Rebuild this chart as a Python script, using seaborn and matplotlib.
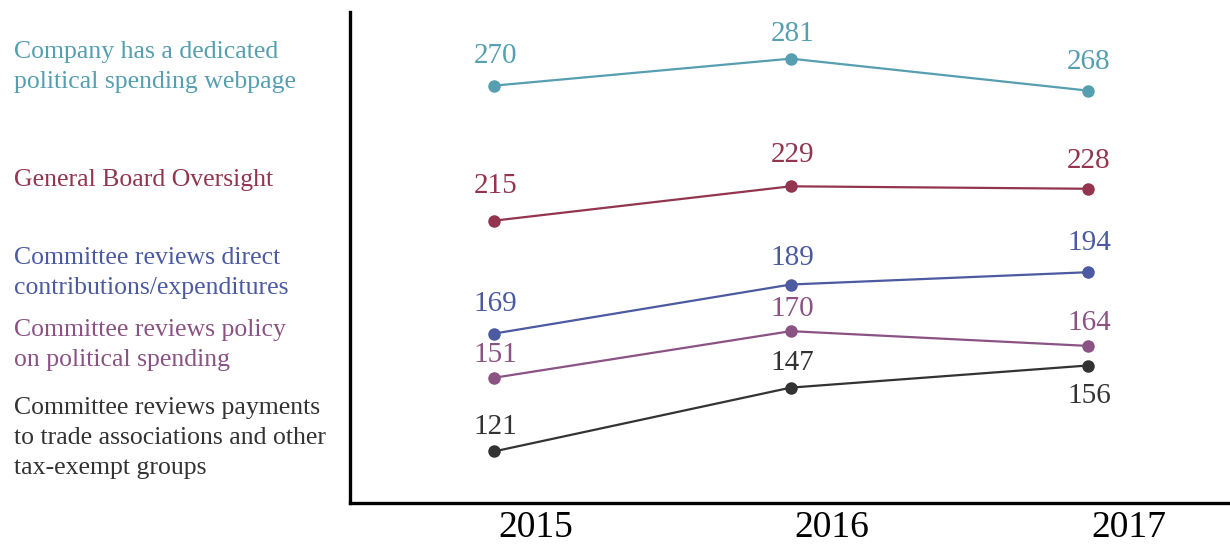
import matplotlib
matplotlib.use("Agg")
import matplotlib.pyplot as plt
import seaborn as sns
import pandas as pd

years = ["2015", "2016", "2017"]
series_names = [
    "Company has a dedicated\npolitical spending webpage",
    "General Board Oversight",
    "Committee reviews direct\ncontributions/expenditures",
    "Committee reviews policy\non political spending",
    "Committee reviews payments\nto trade associations and other\ntax-exempt groups",
]
webpage = [270, 281, 268]
board = [215, 229, 228]
direct = [169, 189, 194]
policy = [151, 170, 164]
trade = [121, 147, 156]
all_values = [webpage, board, direct, policy, trade]
colors = ["#559fb0", "#93354f", "#4b5aa1", "#8a5384", "#333333"]
# value-label offsets in pixels (positive = above the point)
label_offsets_px = [[30, 25, 29], [35, 31, 28], [30, 27, 29], [23, 22, 23], [24, 25, -30]]
label_y_px = [67, 180, 273, 345, 438]

rows = []
for name, vals in zip(series_names, all_values):
    for i, (yr, v) in enumerate(zip(years, vals)):
        rows.append({"series": name, "x": i, "year": yr, "value": v})
df = pd.DataFrame(rows)

sns.set_style("white")
plt.rcParams["font.family"] = ["Liberation Serif", "DejaVu Serif"]

fig = plt.figure(figsize=(12.3, 5.46), dpi=100)
ax = fig.add_axes([350 / 1230, 1 - 503 / 546, 1 - 350 / 1230, (503 - 12) / 546])

sns.lineplot(data=df, x="x", y="value", hue="series", hue_order=series_names,
             palette=colors, marker="o", markersize=9, markeredgewidth=0,
             linewidth=1.6, ax=ax, legend=False)

for name, vals, col, offs in zip(series_names, all_values, colors, label_offsets_px):
    for i, (v, o) in enumerate(zip(vals, offs)):
        ax.annotate(str(v), (i, v), xytext=(1, o * 0.72), textcoords="offset points",
                    ha="center", va="center", fontsize=21, color=col)

ax.set_xlim(-0.485, 2.48)
ax.set_ylim(100, 300)
ax.set_yticks([])
ax.set_xticks([0.5, 1.5])
ax.set_xticklabels([])
ax.tick_params(axis="x", direction="in", length=9, width=2, color="black")
for sp in ["top", "right"]:
    ax.spines[sp].set_visible(False)
for sp in ["left", "bottom"]:
    ax.spines[sp].set_linewidth(2.4)
    ax.spines[sp].set_color("black")
ax.set_xlabel("")
ax.set_ylabel("")

for i, yr in enumerate(years):
    ax.text(i + 0.14, -34 / 491, yr, transform=ax.get_xaxis_transform(),
            ha="center", va="baseline", fontsize=27, color="black")

for name, col, ypx in zip(series_names, colors, label_y_px):
    fig.text(14 / 1230, 1 - ypx / 546, name, ha="left", va="center",
             fontsize=18.5, color=col, linespacing=1.45)

fig.savefig("out.png", dpi=100)
